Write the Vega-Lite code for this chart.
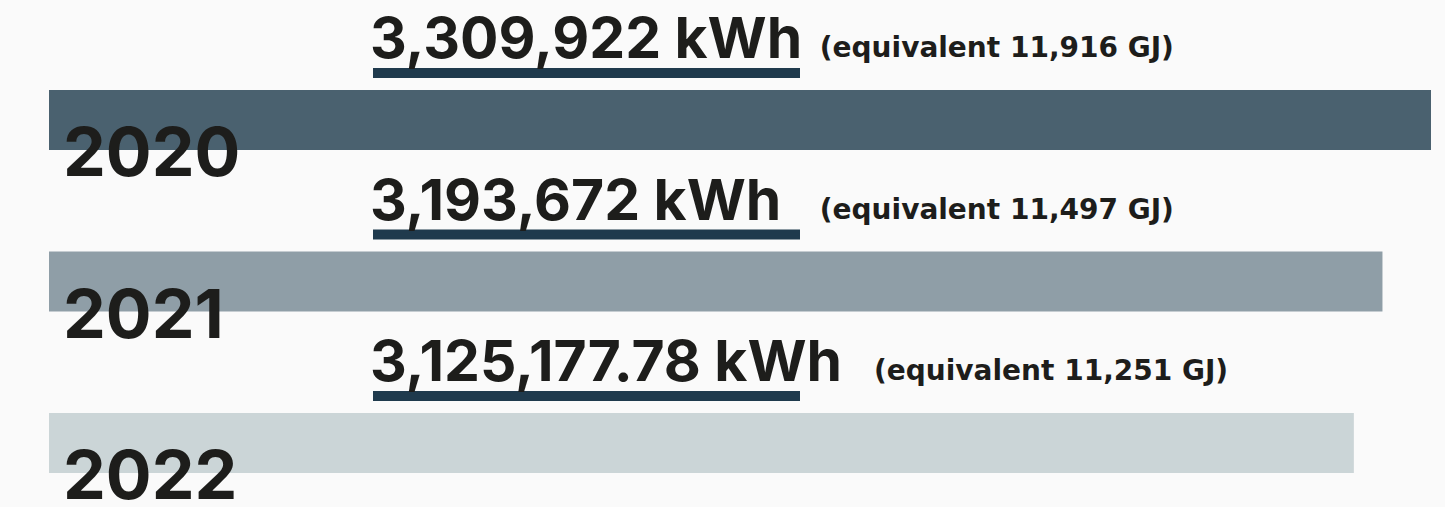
{
  "$schema": "https://vega.github.io/schema/vega-lite/v6.json",
  "width": 1382,
  "height": 507,
  "autosize": {"type": "none"},
  "padding": {"left": 49, "right": 14, "top": 0, "bottom": 0},
  "background": "#fafafa",
  "config": {"view": {"stroke": null}, "text": {"font": "Inter", "fontWeight": 700, "color": "#1d1d1b"}},
  "data": {"values": [
    {"year": 2020, "kwh": 3309922, "label": "3,309,922 kWh", "gj": "(equivalent 11,916 GJ)"},
    {"year": 2021, "kwh": 3193672, "label": "3,193,672 kWh", "gj": "(equivalent 11,497 GJ)"},
    {"year": 2022, "kwh": 3125177.78, "label": "3,125,177.78 kWh", "gj": "(equivalent 11,251 GJ)"}
  ]},
  "encoding": {
    "y": {"field": "year", "type": "quantitative", "axis": null, "scale": {"domain": [2019.257, 2022.396], "reverse": true, "nice": false, "zero": false, "padding": 0}}
  },
  "layer": [
    {
      "mark": {"type": "bar", "orient": "horizontal", "size": 60},
      "encoding": {
        "x": {"field": "kwh", "type": "quantitative", "axis": null, "scale": {"domain": [0, 3309922], "nice": false, "padding": 0}},
        "color": {"field": "year", "type": "ordinal", "legend": null, "scale": {"range": ["#4a616f", "#8f9ea7", "#cbd5d7"]}}
      }
    },
    {
      "mark": {"type": "rule", "strokeWidth": 10, "color": "#1f3a4d", "yOffset": -47},
      "encoding": {"x": {"datum": 776000}, "x2": {"datum": 1798670}}
    },
    {
      "mark": {"type": "text", "align": "left", "baseline": "alphabetic", "fontSize": 57, "dy": -62},
      "encoding": {"x": {"datum": 768800}, "text": {"field": "label"}}
    },
    {
      "transform": [{"filter": "datum.year != 2022"}],
      "mark": {"type": "text", "align": "left", "baseline": "alphabetic", "font": "DejaVu Sans", "fontSize": 28, "dy": -63},
      "encoding": {"x": {"datum": 1846000}, "text": {"field": "gj"}}
    },
    {
      "transform": [{"filter": "datum.year == 2022"}],
      "mark": {"type": "text", "align": "left", "baseline": "alphabetic", "font": "DejaVu Sans", "fontSize": 28, "dy": -63},
      "encoding": {"x": {"datum": 1975900}, "text": {"field": "gj"}}
    },
    {
      "mark": {"type": "text", "align": "left", "baseline": "alphabetic", "fontSize": 68, "dy": 56},
      "encoding": {"x": {"datum": 33500}, "text": {"field": "year", "type": "nominal"}}
    }
  ]
}
